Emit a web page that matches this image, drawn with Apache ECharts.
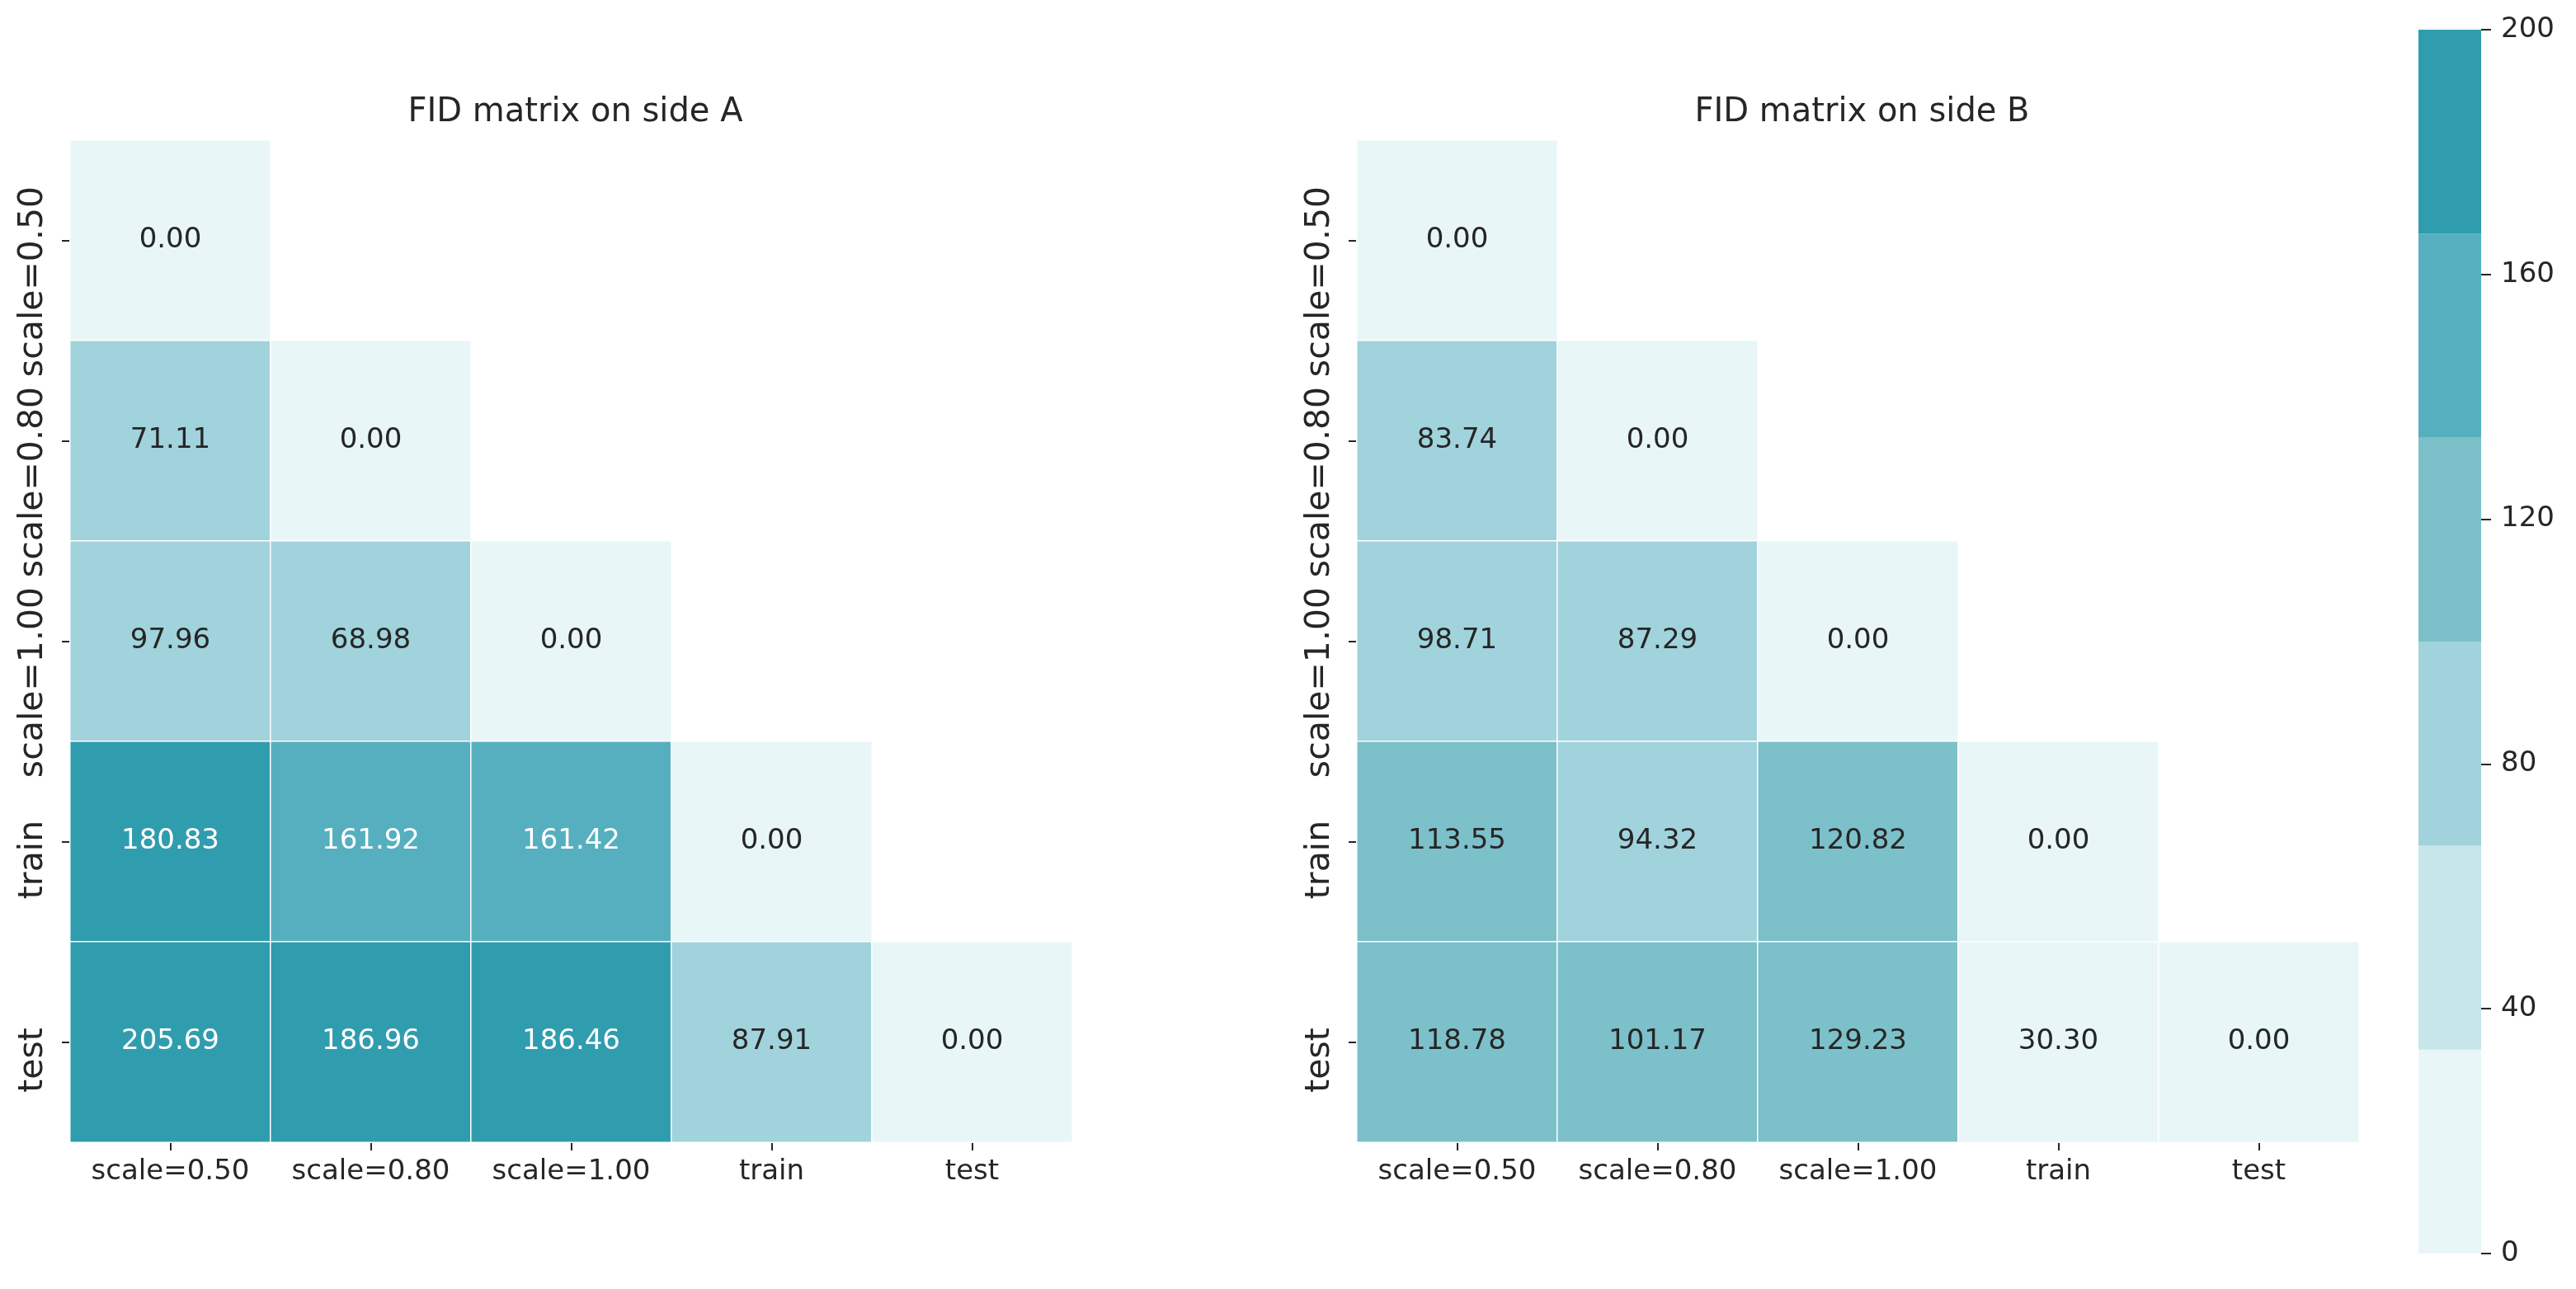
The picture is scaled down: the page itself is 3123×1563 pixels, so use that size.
<!DOCTYPE html>
<html>
<head>
<meta charset="utf-8">
<script src="https://cdn.jsdelivr.net/npm/echarts@6/dist/echarts.min.js"></script>
<style>
html,body{margin:0;padding:0;background:#fff;overflow:hidden;}
#chart{width:3123px;height:1563px;}
</style>
</head>
<body>
<div id="chart"></div>
<script>
// ---- data ----
const categories = ['scale=0.50', 'scale=0.80', 'scale=1.00', 'train', 'test'];
// lower triangle (incl. diagonal), row by row
const fidA = [
  [0.00],
  [71.11, 0.00],
  [97.96, 68.98, 0.00],
  [180.83, 161.92, 161.42, 0.00],
  [205.69, 186.96, 186.46, 87.91, 0.00]
];
const fidB = [
  [0.00],
  [83.74, 0.00],
  [98.71, 87.29, 0.00],
  [113.55, 94.32, 120.82, 0.00],
  [118.78, 101.17, 129.23, 30.30, 0.00]
];
const titles = ['FID matrix on side A', 'FID matrix on side B'];
const binEdges = [0, 33.333, 66.667, 100, 133.333, 166.667, 200];
const binColors = ['#e8f6f7', '#c6e6e9', '#a1d3dc', '#7cc0ca', '#56afbf', '#309dae'];
const colorbarTicks = [0, 40, 80, 120, 160, 200];

// ---- build ----
const TEXT = '#262626';
const FONT = 'DejaVu Sans';

function toItems(mat) {
  const items = [];
  mat.forEach((row, i) => {
    row.forEach((v, j) => {
      items.push({
        value: [j, i, v],
        label: { color: v >= binEdges[4] ? '#ffffff' : TEXT }
      });
    });
  });
  return items;
}

const pieces = binColors.map((c, k) => {
  const p = { min: binEdges[k], color: c };
  if (k < binColors.length - 1) p.max = binEdges[k + 1];
  return p;
});

const gridW = 1215;
const grids = [
  { left: 85, top: 170, width: gridW, height: gridW },
  { left: 1645, top: 170, width: gridW, height: gridW },
  { left: 2932, top: 36, width: 76, height: 1484 }
];

const xAxes = [0, 1].map(g => ({
  type: 'category', gridIndex: g, data: categories,
  axisLine: { show: false },
  axisTick: { show: true, alignWithLabel: true, length: 10, lineStyle: { color: TEXT, width: 2 } },
  axisLabel: { fontFamily: FONT, fontSize: 34, color: TEXT, margin: 19, interval: 0 },
  splitLine: { show: false }
}));
xAxes.push({ type: 'category', gridIndex: 2, data: ['cb'], show: false, boundaryGap: true });

const ylabRich = {
  L: { fontFamily: FONT, fontSize: 41, color: TEXT, padding: [0, 100, 0, 0] },
  S: { fontFamily: FONT, fontSize: 41, color: TEXT, padding: [0, 44, 0, 0] }
};
const yAxes = [0, 1].map(g => ({
  type: 'category', gridIndex: g, data: categories, inverse: true,
  axisLine: { show: false },
  axisTick: { show: true, alignWithLabel: true, length: 10, lineStyle: { color: TEXT, width: 2 } },
  axisLabel: {
    fontFamily: FONT, fontSize: 41, color: TEXT, rotate: 90, margin: 24, interval: 0,
    formatter: v => '{' + (v.length > 5 ? 'L' : 'S') + '|' + v + '}',
    rich: ylabRich
  },
  splitLine: { show: false }
}));
yAxes.push({
  type: 'value', gridIndex: 2, position: 'right', min: 0, max: 200, interval: 40,
  axisLine: { show: false },
  axisTick: { show: true, length: 12, lineStyle: { color: TEXT, width: 2 } },
  axisLabel: { fontFamily: FONT, fontSize: 34, color: TEXT, margin: 24 },
  splitLine: { show: false }
});

const series = [fidA, fidB].map((m, g) => ({
  type: 'heatmap', xAxisIndex: g, yAxisIndex: g,
  data: toItems(m),
  label: { show: true, fontFamily: FONT, fontSize: 34, formatter: p => p.value[2].toFixed(2) },
  itemStyle: { borderColor: '#ffffff', borderWidth: 1.5 },
  emphasis: { disabled: true },
  silent: true
}));

binColors.forEach((c, k) => {
  series.push({
    type: 'bar', xAxisIndex: 2, yAxisIndex: 2, stack: 'cb',
    barWidth: '100%', silent: true,
    data: [binEdges[k + 1] - binEdges[k]],
    itemStyle: { color: c }
  });
});

const option = {
  backgroundColor: '#ffffff',
  animation: false,
  title: titles.map((t, g) => ({
    text: t,
    left: grids[g].left + gridW / 2, top: 112, textAlign: 'center',
    textStyle: { fontFamily: FONT, fontSize: 40, fontWeight: 'normal', color: TEXT }
  })),
  grid: grids,
  xAxis: xAxes,
  yAxis: yAxes,
  visualMap: {
    type: 'piecewise', show: false, dimension: 2, seriesIndex: [0, 1],
    pieces: pieces
  },
  series: series
};

const chart = echarts.init(document.getElementById('chart'), null, { renderer: 'canvas' });
chart.setOption(option);
</script>
</body>
</html>
